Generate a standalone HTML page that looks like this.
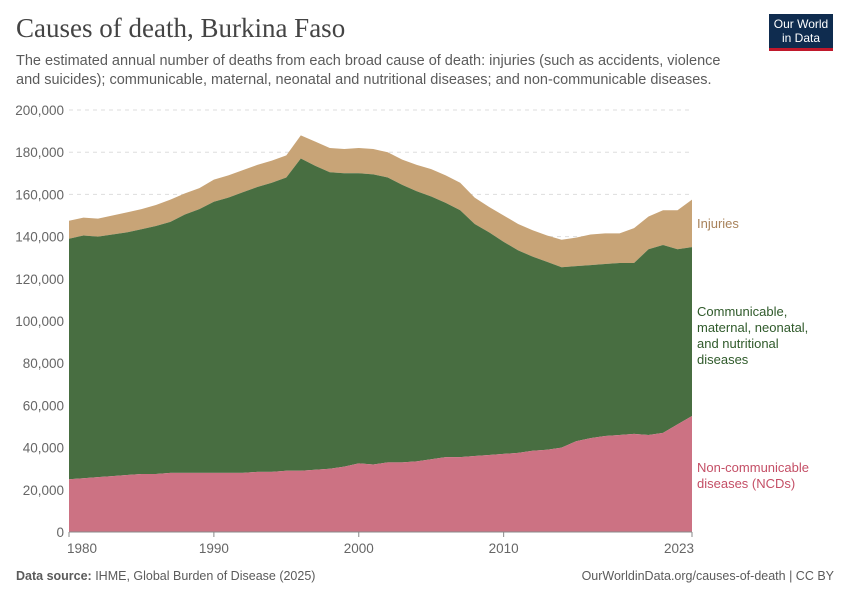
<!DOCTYPE html>
<html><head><meta charset="utf-8"><style>
body{margin:0;background:#fff;font-family:"Liberation Sans",sans-serif;}
#wrap{position:relative;width:850px;height:600px;overflow:hidden;}
h1{position:absolute;left:16px;top:13px;margin:0;font-family:"Liberation Serif",serif;font-weight:normal;font-size:27px;color:#444;}
.sub{position:absolute;left:16px;top:52px;width:725px;font-size:14.5px;line-height:19px;color:#5b5b5b;}
.foot{position:absolute;top:569px;font-size:12.5px;color:#5b5b5b;}
#logo{position:absolute;left:769px;top:14px;width:64px;height:37px;background:#0f2c4f;border-bottom:3px solid #c0182b;color:#fff;font-size:12px;line-height:14px;text-align:center;padding-top:3px;box-sizing:border-box;}
</style></head><body>
<div id="wrap">
<h1>Causes of death, Burkina Faso</h1>
<div class="sub">The estimated annual number of deaths from each broad cause of death: injuries (such as accidents, violence and suicides); communicable, maternal, neonatal and nutritional diseases; and non-communicable diseases.</div>
<div id="logo">Our World<br>in Data</div>
<svg id="chart" width="850" height="600" style="position:absolute;left:0;top:0"></svg>
<div class="foot" style="left:16px"><b>Data source:</b> IHME, Global Burden of Disease (2025)</div>
<div class="foot" style="right:16px">OurWorldinData.org/causes-of-death | CC BY</div>
</div>
<script>
const years=[];for(let y=1980;y<=2023;y++)years.push(y);
const ncd=[25,25.5,26,26.5,27,27.5,27.5,28,28,28,28,28,28,28.5,28.5,29,29,29.5,30,31,32.5,32,33,33,33.5,34.5,35.5,35.5,36,36.5,37,37.5,38.5,39,40,43,44.5,45.5,46,46.5,46,47,51,55];
const communicable=[114,115,114,114.5,115,116,117.5,119,122.5,125,128.5,130.5,133,135,137,139,148,144,140.5,139,137.5,137.5,135,131.5,128,124.5,120.5,117,110,105.5,100.5,96,92,89,85.5,83,82,81.5,81.5,81,88,89,83,80];
const injuries=[8.5,8.5,8.5,9,9.5,9.5,10,10.5,10,10,10.5,10.5,10.5,10.5,10.5,10.5,11,11.5,11.5,11.5,12,12,12,12,12.5,13,13,13,12.5,12,12.5,12.5,12.5,12.5,13,13.5,14.5,14.5,14,16.5,15.5,16.5,18.5,22.5];
const yTicks=[0,20000,40000,60000,80000,100000,120000,140000,160000,180000,200000];
const xTicks=[1980,1990,2000,2010,2023];
const svg=document.getElementById('chart');const NS='http://www.w3.org/2000/svg';
const X=y=>69+(y-1980)*(692-69)/43;
const Y=v=>532-v*(422/200000);
function mk(t,a){const e=document.createElementNS(NS,t);for(const k in a)e.setAttribute(k,a[k]);svg.appendChild(e);return e;}
yTicks.forEach(v=>{
 if(v>0){const g=mk('line',{x1:69,x2:692,y1:Y(v),y2:Y(v),stroke:'#ddd','stroke-dasharray':'4,4'});
 
 }
 const t=mk('text',{x:64,y:Y(v)+5,'text-anchor':'end','font-size':13.5,fill:'#666','font-family':'Liberation Sans'});t.textContent=v.toLocaleString('en-US');
 
 
});
const s1=ncd.map(v=>v*1000),s2=ncd.map((v,i)=>(v+communicable[i])*1000),s3=ncd.map((v,i)=>(v+communicable[i]+injuries[i])*1000);
function area(top,bot,color,name){
 let d='M'+years.map((y,i)=>X(y)+','+Y(top[i])).join('L');
 for(let i=years.length-1;i>=0;i--)d+='L'+X(years[i])+','+Y(bot?bot[i]:0);
 const p=mk('path',{d:d+'Z',fill:color});
 
 
}
area(s3,s2,'#c8a477','area-injuries');
area(s2,s1,'#486e41','area-communicable');
area(s1,null,'#cc7283','area-ncd');
const ax=mk('line',{x1:69,x2:692,y1:532,y2:532,stroke:'#888'});


xTicks.forEach(y=>{
 const tk=mk('line',{x1:X(y),x2:X(y),y1:532,y2:537,stroke:'#888'});
 
 
 const t=mk('text',{x:X(y),y:553,'text-anchor':y===1980?'start':(y===2023?'end':'middle'),'font-size':13.5,fill:'#666','font-family':'Liberation Sans'});
 if(y===1980)t.setAttribute('x',X(y)-2);
 if(y===2023)t.setAttribute('x',X(y)+2);
 t.textContent=y;
 
 
});
function lab(lines,y0,color,name){lines.forEach((l,i)=>{const t=mk('text',{x:697,y:y0+i*16,'font-size':13,fill:color,'font-family':'Liberation Sans'});t.textContent=l;
 
 });}
lab(['Injuries'],228,'#a8825a','legend-injuries');
lab(['Communicable,','maternal, neonatal,','and nutritional','diseases'],316,'#2f5a2a','legend-communicable');
lab(['Non-communicable','diseases (NCDs)'],472,'#c44f66','legend-ncd');
</script>
</body></html>
